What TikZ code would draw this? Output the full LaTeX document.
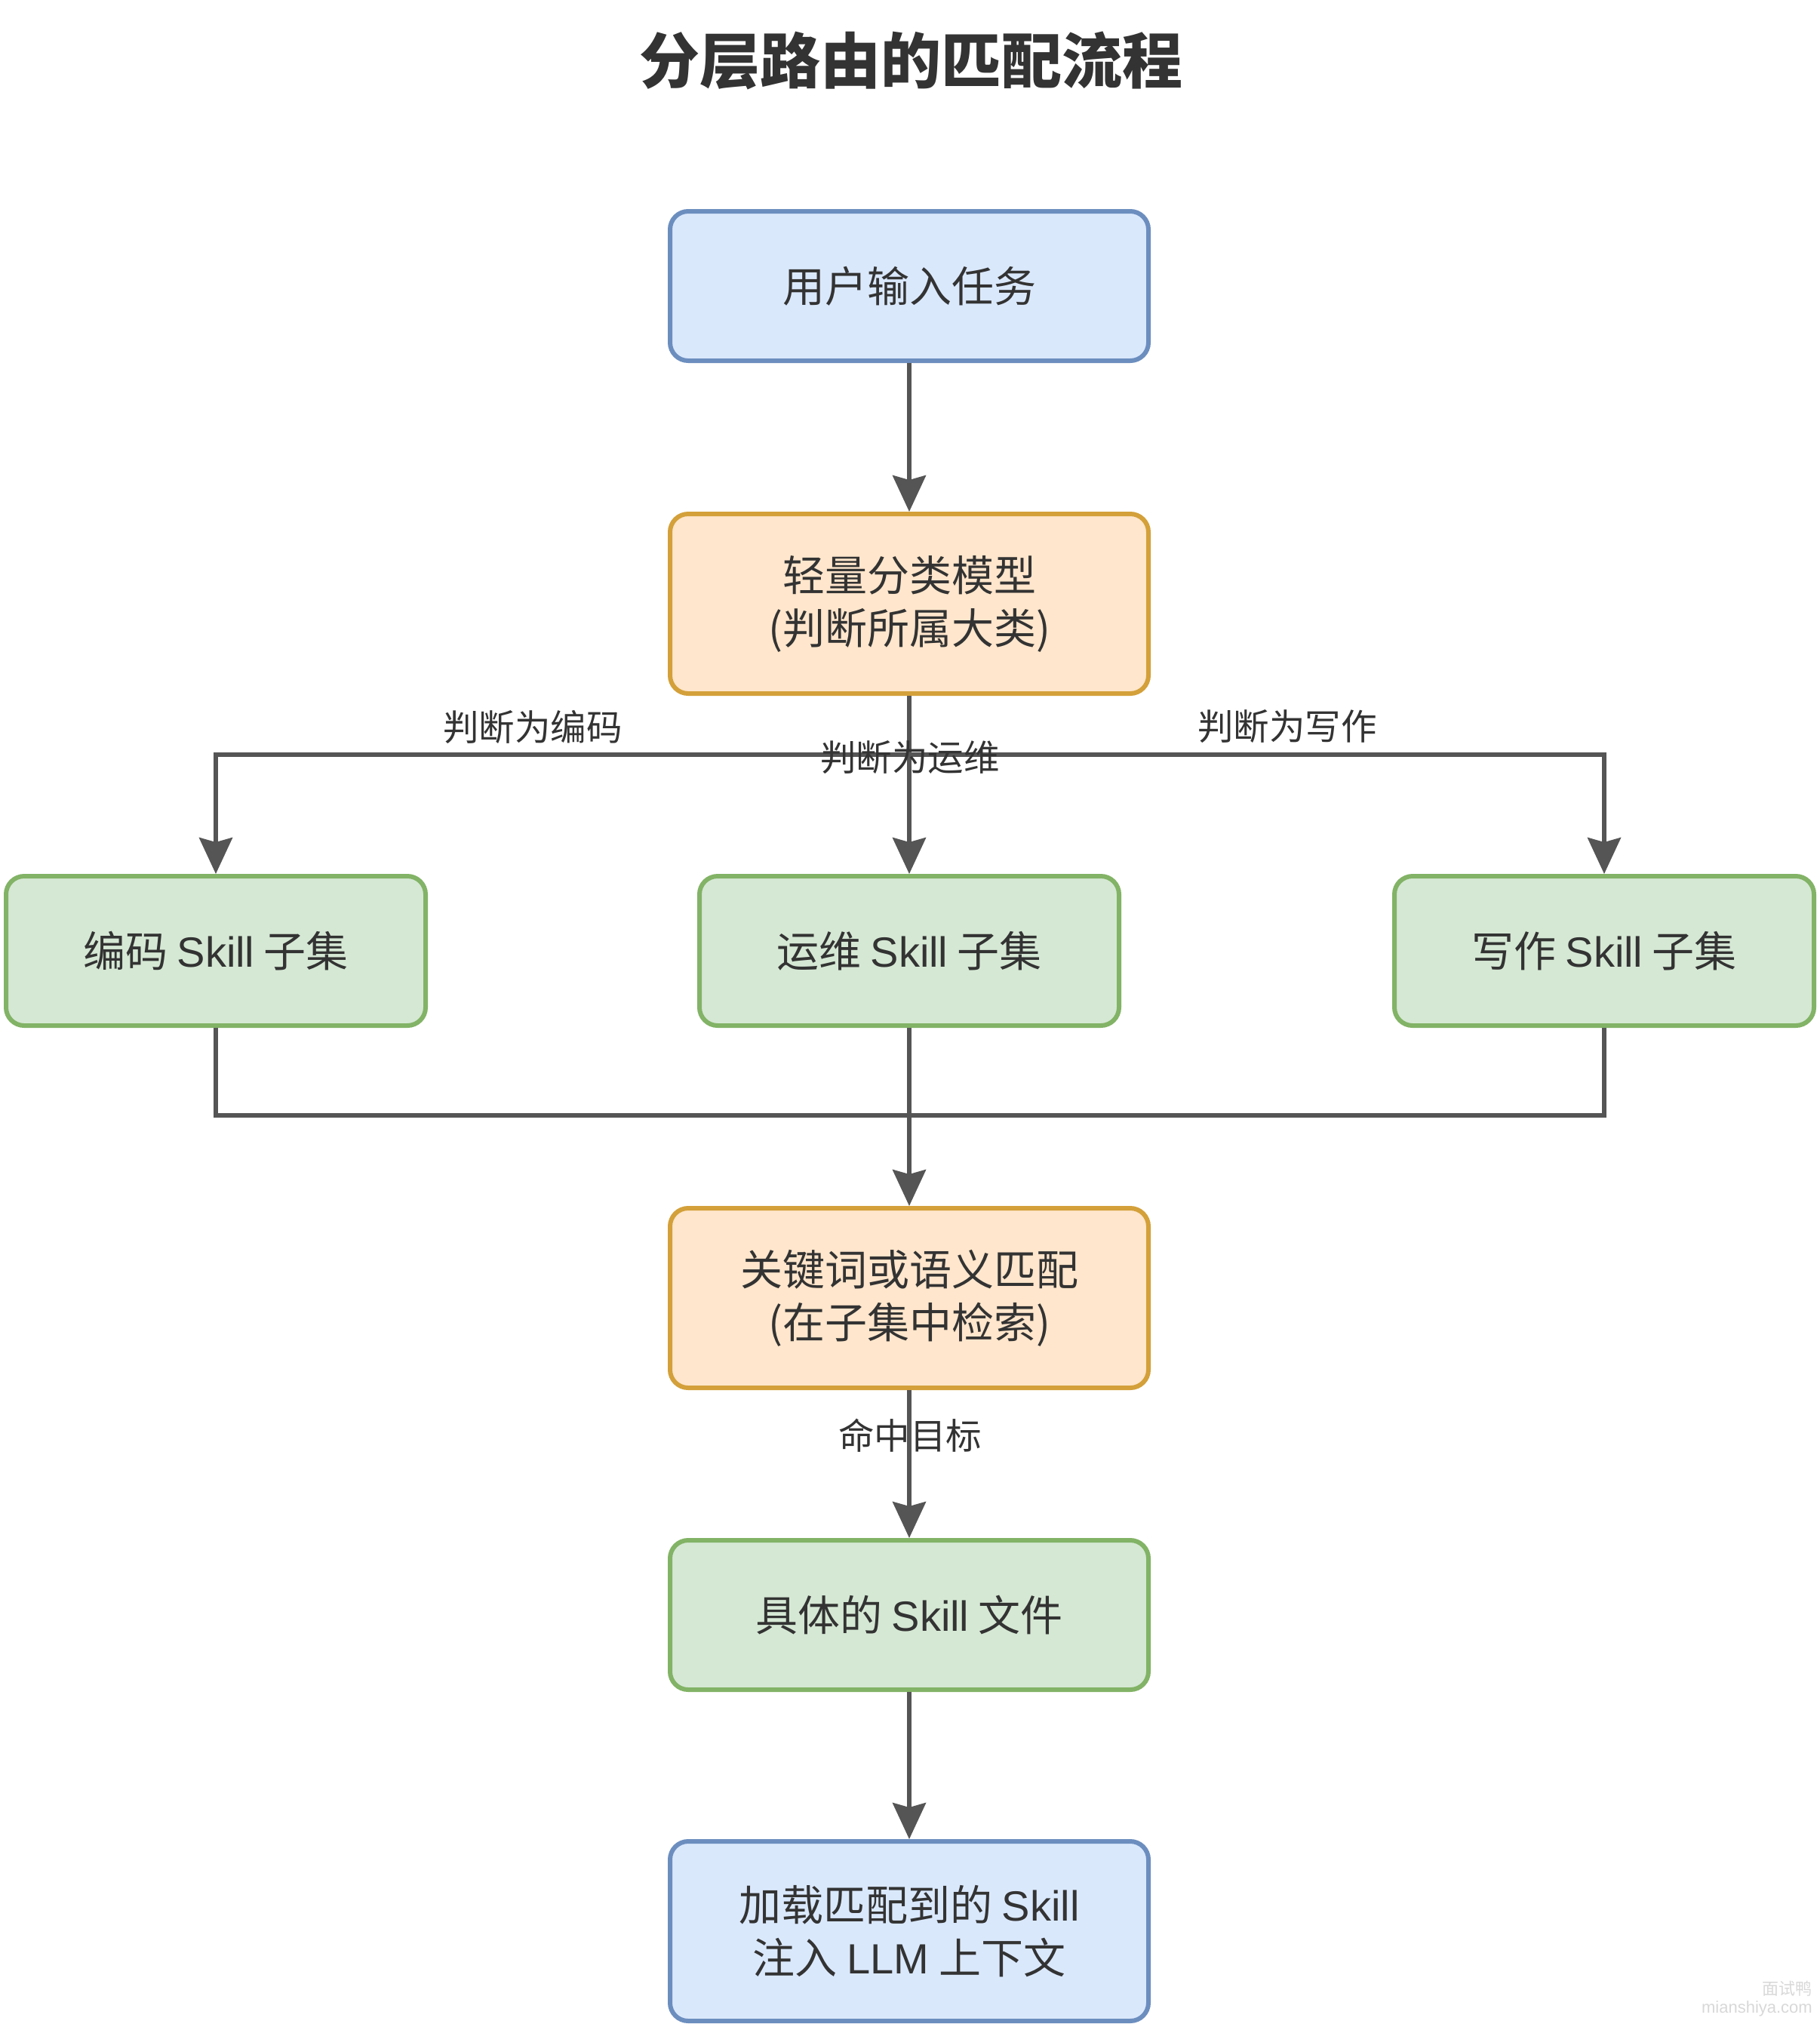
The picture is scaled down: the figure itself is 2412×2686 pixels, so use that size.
\documentclass[tikz,border=0pt]{standalone}
\usepackage{fontspec}
\setmainfont{Noto Sans CJK SC}
\newfontfamily\lat{Liberation Sans}
\usetikzlibrary{arrows.meta}
\definecolor{bluefill}{HTML}{DAE8FC}
\definecolor{bluedraw}{HTML}{6C8EBF}
\definecolor{orfill}{HTML}{FFE6CC}
\definecolor{ordraw}{HTML}{D3A03A}
\definecolor{grfill}{HTML}{D5E8D4}
\definecolor{grdraw}{HTML}{82B366}
\definecolor{edgec}{HTML}{555555}
\definecolor{txt}{HTML}{333333}
\definecolor{wm}{HTML}{D8D8D8}
\tikzset{
  box/.style={draw, line width=6pt, rounded corners=24pt, minimum width=634pt, align=center,
    text=txt, font=\fontsize{56}{70}\selectfont, inner sep=0pt},
  bluebox/.style={box, fill=bluefill, draw=bluedraw, minimum height=198pt},
  orbox/.style={box, fill=orfill, draw=ordraw, minimum height=238pt},
  grbox/.style={box, fill=grfill, draw=grdraw, minimum height=198pt},
  skbox/.style={grbox, minimum width=556pt},
  conn/.style={draw=edgec, line width=5.5pt, -{Stealth[length=48pt,width=44pt,inset=6pt]}},
  plain/.style={draw=edgec, line width=5.5pt},
  elabel/.style={text=txt, font=\fontsize{47.5}{56}\selectfont, inner sep=0pt},
}
\begin{document}
\begin{tikzpicture}[x=1pt,y=-1pt]
\useasboundingbox (0,0) rectangle (2412,2686);
\node[font=\fontsize{80}{90}\selectfont\bfseries, text=txt] (title) at (1207,80) {分层路由的匹配流程};
\node[bluebox] (input) at (1205,379) {用户输入任务};
\node[orbox] (cls) at (1205,800) {轻量分类模型\\(判断所属大类)};
\node[skbox] (code) at (286,1260) {编码 {\lat Skill} 子集};
\node[skbox] (ops) at (1205,1260) {运维 {\lat Skill} 子集};
\node[skbox] (write) at (2126,1260) {写作 {\lat Skill} 子集};
\node[orbox] (match) at (1205,1720) {关键词或语义匹配\\(在子集中检索)};
\node[grbox] (file) at (1205,2140) {具体的 {\lat Skill} 文件};
\node[bluebox, minimum height=238pt] (load) at (1205,2559) {加载匹配到的 {\lat Skill}\\注入 {\lat LLM} 上下文};

\coordinate (splitL) at (286,1000);
\coordinate (splitR) at (2126,1000);
\coordinate (mergeL) at (286,1478);
\coordinate (mergeR) at (2126,1478);

\draw[conn] (input) -- (cls);
\draw[conn] (cls.south) |- (splitL) -- (code.north);
\draw[conn] (cls.south) -- (ops.north);
\draw[conn] (cls.south) |- (splitR) -- (write.north);
\draw[plain] (code.south) -- (mergeL) -- (mergeR) -- (write.south);
\draw[conn] (ops.south) -- (match.north);
\draw[conn] (match) -- (file);
\draw[conn] (file) -- (load);

\node[elabel] (l1) at (706,963) {判断为编码};
\node[elabel] (l2) at (1206,1004) {判断为运维};
\node[elabel] (l3) at (1706,963) {判断为写作};
\node[elabel] (l4) at (1206,1902) {命中目标};

\node[text=wm, font=\fontsize{22}{24}\selectfont, anchor=east, inner sep=0pt] (wm1) at (2402,2635) {面试鸭};
\node[text=wm, font=\fontsize{22}{24}\selectfont\lat, anchor=east, inner sep=0pt] (wm2) at (2402,2662) {mianshiya.com};
\end{tikzpicture}
\end{document}
